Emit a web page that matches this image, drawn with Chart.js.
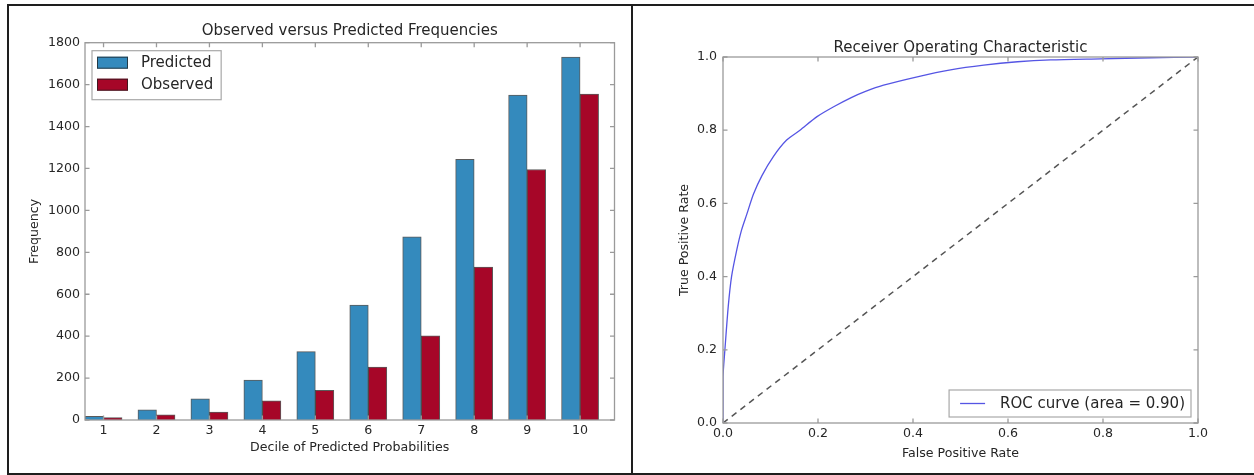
<!DOCTYPE html>
<html>
<head>
<meta charset="utf-8">
<script src="https://cdn.jsdelivr.net/npm/chart.js@4.4.1/dist/chart.umd.min.js"></script>
<style>
  html, body { margin: 0; padding: 0; background: #fff; }
  body { width: 1254px; height: 475px; position: relative; overflow: hidden; }
  .cv { position: absolute; top: 0; }
  .ln { position: absolute; background: #1e1e1e; z-index: 5; }
</style>
</head>
<body>
<div class="cv" style="left:0;width:632px;height:475px;"><canvas id="left"></canvas></div>
<div class="cv" style="left:632px;width:622px;height:475px;"><canvas id="right"></canvas></div>
<div class="ln" style="left:8px;top:4px;width:1246px;height:2px;"></div>
<div class="ln" style="left:7px;top:4px;width:2px;height:471px;"></div>
<div class="ln" style="left:631px;top:4px;width:2px;height:471px;"></div>
<div class="ln" style="left:7px;top:473px;width:1247px;height:2px;"></div>
<script>
// ---------- data ----------
const decileLabels = ['1','2','3','4','5','6','7','8','9','10'];
const predicted = [17, 48, 101, 190, 326, 548, 874, 1243, 1550, 1731];
const observed  = [11, 25, 38, 92, 141, 252, 401, 729, 1195, 1555];
const freqTicks = [0, 200, 400, 600, 800, 1000, 1200, 1400, 1600, 1800];

const fpr = [0, 0, 0.004, 0.011, 0.018, 0.029, 0.039, 0.050, 0.064, 0.082, 0.106, 0.134, 0.162, 0.198, 0.233, 0.270, 0.300, 0.338, 0.409, 0.479, 0.549, 0.620, 0.690, 0.795, 0.900, 1.0];
const tpr = [0, 0.126, 0.200, 0.318, 0.400, 0.473, 0.527, 0.570, 0.625, 0.676, 0.728, 0.773, 0.800, 0.837, 0.864, 0.889, 0.906, 0.923, 0.946, 0.965, 0.978, 0.987, 0.992, 0.995, 0.998, 1.0];
const chanceX = [0, 1];
const chanceY = [0, 1];
const rateTicks = [0, 0.2, 0.4, 0.6, 0.8, 1.0];
const rocLabel = 'ROC curve (area = 0.90)';

// ---------- style ----------
const FONT = 'DejaVu Sans';
const TXT = '#262626';
const SPINE = '#9a9a9a';
const BLUE = '#348ABD';
const RED = '#A60628';
const BAR_W = 0.35;   // bar width in x units (matplotlib style)

const tickFont = { family: FONT, size: 12.6 };
const labelFont = { family: FONT, size: 12.6 };
const bigFont = { family: FONT, size: 15, weight: 'normal' };

// frame + inward ticks on all four sides
const framePlugin = {
  id: 'frame',
  afterDraw(chart) {
    const { ctx, chartArea: a, scales } = chart;
    ctx.save();
    ctx.strokeStyle = SPINE;
    ctx.lineWidth = 1.3;
    ctx.strokeRect(a.left, a.top, a.right - a.left, a.bottom - a.top);
    const L = 4.5;
    ctx.beginPath();
    scales.x.ticks.forEach(t => {
      const px = scales.x.getPixelForValue(t.value);
      ctx.moveTo(px, a.bottom); ctx.lineTo(px, a.bottom - L);
      ctx.moveTo(px, a.top); ctx.lineTo(px, a.top + L);
    });
    scales.y.ticks.forEach(t => {
      const py = scales.y.getPixelForValue(t.value);
      ctx.moveTo(a.left, py); ctx.lineTo(a.left + L, py);
      ctx.moveTo(a.right, py); ctx.lineTo(a.right - L, py);
    });
    ctx.stroke();
    ctx.restore();
  }
};

// ---------- left: bar chart ----------
const barLegend = {
  id: 'barLegend',
  afterDraw(chart) {
    const { ctx, chartArea: a } = chart;
    const x0 = a.left + 7, y0 = a.top + 8;
    ctx.save();
    ctx.font = '15px "' + FONT + '"';
    const tw = Math.max(...chart.data.datasets.map(d => ctx.measureText(d.label).width));
    const w = 49 + tw + 8, h = 49;
    ctx.fillStyle = '#fff';
    ctx.fillRect(x0, y0, w, h);
    ctx.strokeStyle = '#a8a8a8';
    ctx.lineWidth = 1.2;
    ctx.strokeRect(x0, y0, w, h);
    chart.data.datasets.forEach((d, i) => {
      const yc = y0 + 12 + i * 22;
      ctx.fillStyle = d.backgroundColor;
      ctx.fillRect(x0 + 5, yc - 6, 31, 12);
      ctx.strokeStyle = 'rgba(30,30,30,0.75)';
      ctx.lineWidth = 1;
      ctx.strokeRect(x0 + 5.5, yc - 5.5, 30, 11);
      ctx.fillStyle = TXT;
      ctx.textBaseline = 'middle';
      ctx.fillText(d.label, x0 + 49, yc);
    });
    ctx.restore();
  }
};

new Chart(document.getElementById('left'), {
  type: 'bar',
  data: {
    datasets: [
      { label: 'Predicted', backgroundColor: BLUE,
        data: predicted.map((v, i) => ({ x: i + BAR_W / 2, y: v })) },
      { label: 'Observed', backgroundColor: RED,
        data: observed.map((v, i) => ({ x: i + BAR_W * 1.5, y: v })) }
    ]
  },
  options: {
    responsive: true, maintainAspectRatio: false, animation: false,
    datasets: { bar: { grouped: false, categoryPercentage: 1, barPercentage: 1,
      borderWidth: 1, borderColor: 'rgba(35,35,35,0.75)' } },
    layout: { padding: { left: 0, right: 17.5, top: 0, bottom: 0 } },
    plugins: {
      legend: { display: false },
      tooltip: { enabled: false },
      title: { display: true, fullSize: false, text: 'Observed versus Predicted Frequencies',
        font: bigFont, color: TXT, padding: { top: 22.5, bottom: 2.2 } }
    },
    scales: {
      x: {
        type: 'linear', min: 0, max: decileLabels.length, offset: false,
        grid: { display: false, drawTicks: false },
        border: { display: false },
        afterBuildTicks: s => { s.ticks = decileLabels.map((l, i) => ({ value: i + BAR_W })); },
        ticks: { autoSkip: false, maxRotation: 0, font: tickFont, color: TXT, padding: 3,
          callback: (v, i) => decileLabels[i] },
        title: { display: true, text: 'Decile of Predicted Probabilities', font: labelFont,
          color: TXT, padding: { top: 0, bottom: 20 } },
        afterFit: s => { s.height = 55; }
      },
      y: {
        min: 0, max: 1800,
        grid: { display: false, drawTicks: false },
        border: { display: false },
        afterBuildTicks: s => { s.ticks = freqTicks.map(v => ({ value: v })); },
        ticks: { font: tickFont, color: TXT, padding: 5, callback: v => String(v) },
        title: { display: true, text: 'Frequency', font: labelFont, color: TXT,
          padding: { top: 27.4, bottom: 0 } },
        afterFit: s => { s.width = 85; }
      }
    }
  },
  plugins: [framePlugin, barLegend]
});

// ---------- right: ROC ----------
const rocLegend = {
  id: 'rocLegend',
  afterDraw(chart) {
    const { ctx, chartArea: a } = chart;
    const d = chart.data.datasets[0];
    ctx.save();
    ctx.font = '15px "' + FONT + '"';
    const tw = ctx.measureText(d.label).width;
    const w = 51 + tw + 6, h = 27;
    const x0 = a.right - 7 - w, y0 = a.bottom - 6 - h;
    ctx.fillStyle = '#fff';
    ctx.fillRect(x0, y0, w, h);
    ctx.strokeStyle = '#a8a8a8';
    ctx.lineWidth = 1.2;
    ctx.strokeRect(x0, y0, w, h);
    ctx.strokeStyle = d.borderColor;
    ctx.lineWidth = d.borderWidth;
    ctx.beginPath();
    ctx.moveTo(x0 + 11, y0 + h / 2); ctx.lineTo(x0 + 36, y0 + h / 2);
    ctx.stroke();
    ctx.fillStyle = TXT;
    ctx.textBaseline = 'middle';
    ctx.fillText(d.label, x0 + 51, y0 + h / 2 + 0.5);
    ctx.restore();
  }
};

new Chart(document.getElementById('right'), {
  type: 'line',
  data: {
    datasets: [
      { label: rocLabel, data: fpr.map((x, i) => ({ x, y: tpr[i] })),
        borderColor: 'rgb(85,85,228)', borderWidth: 1.3, pointRadius: 0, tension: 0.25, fill: false },
      { label: 'chance', data: chanceX.map((x, i) => ({ x, y: chanceY[i] })),
        borderColor: '#555555', borderWidth: 1.5, borderDash: [6, 5], pointRadius: 0, fill: false }
    ]
  },
  options: {
    responsive: true, maintainAspectRatio: false, animation: false,
    layout: { padding: { left: 0, right: 56, top: 0, bottom: 0 } },
    plugins: {
      legend: { display: false },
      tooltip: { enabled: false },
      title: { display: true, fullSize: false, text: 'Receiver Operating Characteristic',
        font: bigFont, color: TXT, padding: { top: 39, bottom: 0 } }
    },
    scales: {
      x: {
        type: 'linear', min: 0, max: 1,
        grid: { display: false, drawTicks: false },
        border: { display: false },
        afterBuildTicks: s => { s.ticks = rateTicks.map(v => ({ value: v })); },
        ticks: { autoSkip: false, maxRotation: 0, font: tickFont, color: TXT, padding: 3,
          callback: v => v.toFixed(1) },
        title: { display: true, text: 'False Positive Rate', font: labelFont, color: TXT,
          padding: { top: 0, bottom: 14 } },
        afterFit: s => { s.height = 52; }
      },
      y: {
        type: 'linear', min: 0, max: 1,
        grid: { display: false, drawTicks: false },
        border: { display: false },
        afterBuildTicks: s => { s.ticks = rateTicks.map(v => ({ value: v })); },
        ticks: { font: tickFont, color: TXT, padding: 6, callback: v => v.toFixed(1) },
        title: { display: true, text: 'True Positive Rate', font: labelFont, color: TXT,
          padding: { top: 45.4, bottom: 0 } },
        afterFit: s => { s.width = 91; }
      }
    }
  },
  plugins: [framePlugin, rocLegend]
});
</script>
</body>
</html>
